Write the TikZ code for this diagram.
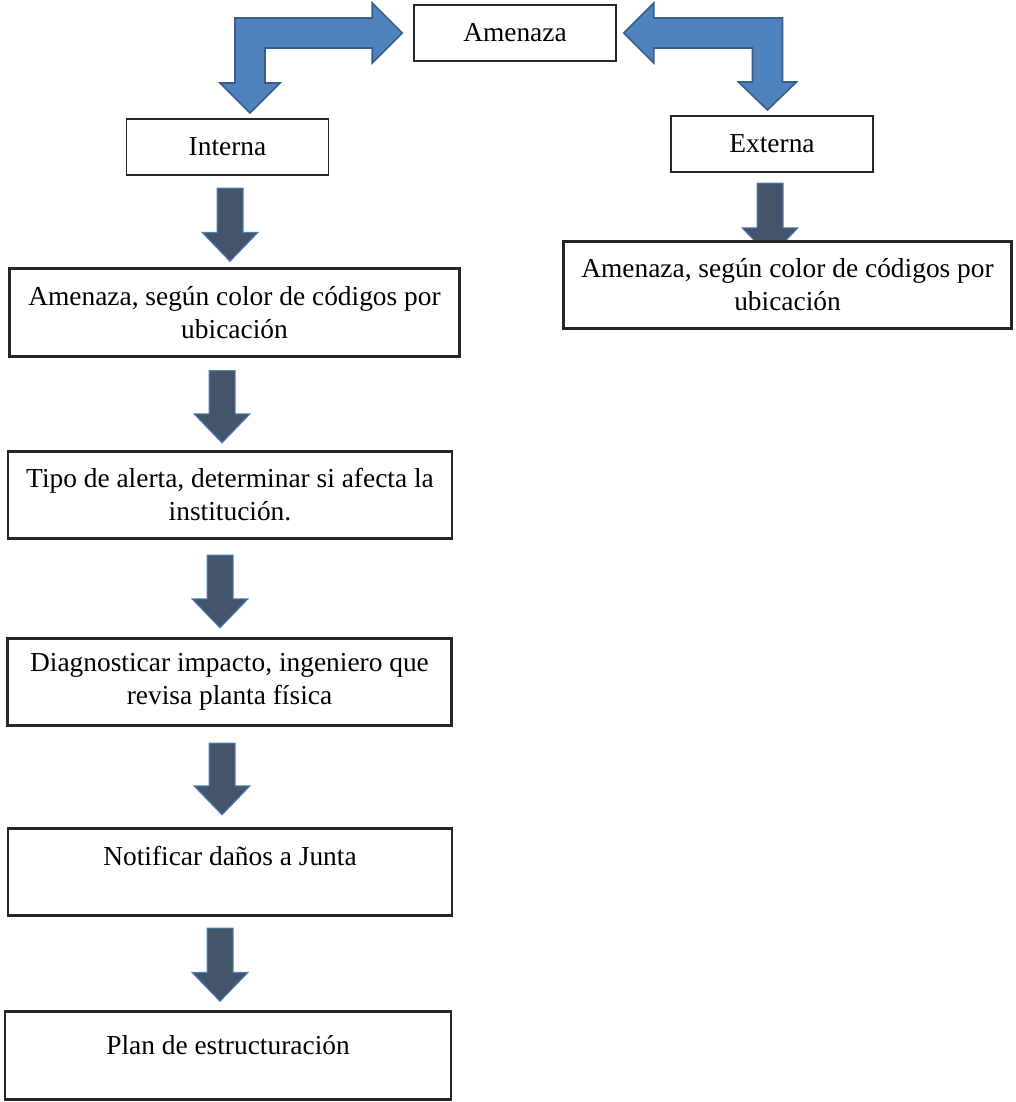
\documentclass[tikz,border=0pt]{standalone}
\usepackage{fontspec}
\setmainfont{Liberation Serif}
\usepackage{xcolor}
\usepackage{tikz}
\usetikzlibrary{calc,backgrounds}

\definecolor{azul}{RGB}{79,129,189}
\definecolor{azulborde}{RGB}{56,93,138}
\definecolor{pizarra}{RGB}{68,84,106}

\tikzset{
  cajita/.style={draw=black!85, line width=0.8pt, fill=white, minimum width=101pt, minimum height=28.2pt, inner sep=2pt},
  caja/.style={draw=black!85, line width=1.4pt, fill=white, minimum width=222pt, minimum height=43.7pt, align=center, inner sep=2pt},
  flechaazul/.style={fill=azul, draw=azulborde, line width=0.8pt},
  flechaosc/.style={fill=pizarra, draw=azul, line width=0.5pt},
}

% Block arrow pointing down: #1 upper box, #2 lower box,
% #3 sideways shift, #4 offset of the top, #5 offset of the tip
\newcommand{\bajar}[5]{%
  \filldraw[flechaosc] let \p1=($(#1.south)+(#3,#4)$), \p2=($(#2.north)+(#3,#5)$) in
    (\x1-6.5pt,\y1) -- (\x1+6.5pt,\y1) -- (\x1+6.5pt,\y2+14.5pt) -- (\x1+14pt,\y2+14.5pt)
    -- (\x1,\y2) -- (\x1-14pt,\y2+14.5pt) -- (\x1-6.5pt,\y2+14.5pt) -- cycle;}

\begin{document}
\begin{tikzpicture}[x=0.5pt, y=-0.5pt, font=\fontsize{13.7}{16.5}\selectfont]
    \useasboundingbox (0,0) rectangle (1016,1102);

    % Nodes
    \node[cajita] (amenaza) at (515,33) {Amenaza};
    \node[cajita] (interna) at (227.5,147) {Interna};
    \node[cajita] (externa) at (772,144) {Externa};

    \node[caja, minimum width=225pt] (ubicacion) at (234.5,312.5) {Amenaza, según color de códigos por\\ubicación};
    \node[caja] (alerta) at (230,495) {Tipo de alerta, determinar si afecta la\\institución.};
    \node[caja] (impacto) at (229.5,682) {Diagnosticar impacto, ingeniero que\\revisa planta física};
    \node[caja] (junta) at (230,872) {Notificar daños a Junta\\\mbox{}};
    \node[caja, minimum width=223pt, text depth=10.5pt] (plan) at (228,1055.5) {Plan de estructuración};

    \node[caja, minimum width=224pt] (ubicacionext) at (787.5,285) {Amenaza, según color de códigos por\\ubicación};

    % Arrows
    \begin{pgfonlayer}{background}
    \filldraw[flechaazul] let \p1=($(amenaza.west)+(-11,0)$), \p2=($(interna.north)+(22.5,-5)$) in
      (\x2-7.5pt,\y1+7.5pt) -- (\x1-15pt,\y1+7.5pt) -- (\x1-15pt,\y1+15pt) -- (\x1,\y1)
      -- (\x1-15pt,\y1-15pt) -- (\x1-15pt,\y1-7.5pt) -- (\x2+7.5pt,\y1-7.5pt)
      -- (\x2+7.5pt,\y2+15pt) -- (\x2+15pt,\y2+15pt) -- (\x2,\y2) -- (\x2-15pt,\y2+15pt)
      -- (\x2-7.5pt,\y2+15pt) -- cycle;
    \filldraw[flechaazul] let \p1=($(amenaza.east)+(7,0)$), \p2=($(externa.north)+(-4.5,-5)$) in
      (\x2+7.5pt,\y1+7.5pt) -- (\x1+15pt,\y1+7.5pt) -- (\x1+15pt,\y1+15pt) -- (\x1,\y1)
      -- (\x1+15pt,\y1-15pt) -- (\x1+15pt,\y1-7.5pt) -- (\x2-7.5pt,\y1-7.5pt)
      -- (\x2-7.5pt,\y2+14pt) -- (\x2-14.5pt,\y2+14pt) -- (\x2,\y2) -- (\x2+14.5pt,\y2+14pt)
      -- (\x2+7.5pt,\y2+14pt) -- cycle;

    \bajar{interna}{ubicacion}{2.5}{12}{-6}
    \bajar{ubicacion}{alerta}{-12.5}{13}{-7}
    \bajar{alerta}{impacto}{-10}{15}{-9}
    \bajar{impacto}{junta}{-7.5}{16}{-12}
    \bajar{junta}{plan}{-10}{11}{-9}
    \bajar{externa}{ubicacionext}{-2}{10}{17}
    \end{pgfonlayer}
\end{tikzpicture}
\end{document}
